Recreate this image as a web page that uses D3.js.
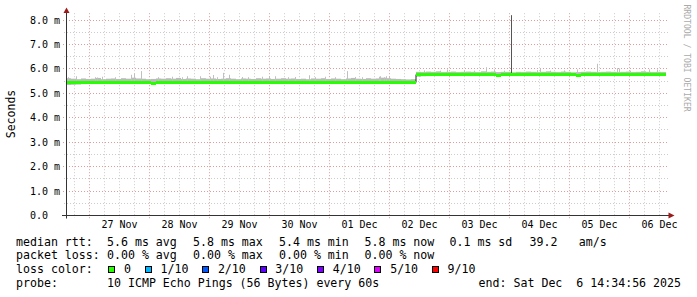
<!DOCTYPE html>
<html>
<head>
<meta charset="utf-8">
<title>SmokePing - last 10 days</title>
<script src="https://d3js.org/d3.v7.min.js"></script>
<style>
  body { margin: 0; background: #fff; }
  text { font-family: "DejaVu Sans Mono", monospace; white-space: pre; }
</style>
</head>
<body>
<div id="chart"></div>
<script>
// ---- data (one sample every 2 hours) ----
const start = new Date(2025, 10, 26, 14, 34, 56);
const end = new Date(2025, 11, 6, 14, 34, 56);
const stepHours = 2;

const median = [
  5.45, 5.44, 5.44, 5.45, 5.44, 5.44, 5.44, 5.45, 5.44, 5.44,
  5.44, 5.45, 5.44, 5.44, 5.44, 5.44, 5.44, 5.41, 5.44, 5.44,
  5.44, 5.45, 5.44, 5.44, 5.45, 5.44, 5.44, 5.44, 5.44, 5.45,
  5.44, 5.44, 5.44, 5.44, 5.44, 5.45, 5.44, 5.44, 5.44, 5.44,
  5.45, 5.44, 5.44, 5.44, 5.44, 5.44, 5.45, 5.44, 5.44, 5.44,
  5.44, 5.44, 5.45, 5.44, 5.44, 5.44, 5.44, 5.44, 5.45, 5.44,
  5.44, 5.44, 5.44, 5.44, 5.44, 5.44, 5.44, 5.44, 5.44, 5.44,
  5.77, 5.77, 5.78, 5.77, 5.77, 5.77, 5.78, 5.77, 5.77, 5.77,
  5.77, 5.78, 5.77, 5.77, 5.77, 5.77, 5.75, 5.77, 5.77, 5.78,
  5.77, 5.77, 5.77, 5.77, 5.78, 5.77, 5.77, 5.77, 5.77, 5.77,
  5.77, 5.77, 5.74, 5.77, 5.77, 5.78, 5.77, 5.77, 5.77, 5.77,
  5.78, 5.77, 5.77, 5.77, 5.77, 5.77, 5.78, 5.77, 5.77, 5.77
];

const smokeHi = [
  5.62, 5.60, 5.58, 5.61, 5.59, 5.60, 5.63, 5.58, 5.60, 5.61,
  5.59, 5.62, 5.60, 5.64, 5.61, 5.60, 5.58, 5.59, 5.61, 5.60,
  5.62, 5.60, 5.63, 5.59, 5.61, 5.60, 5.58, 5.62, 5.60, 5.61,
  5.59, 5.60, 5.62, 5.60, 5.58, 5.61, 5.60, 5.59, 5.62, 5.60,
  5.61, 5.59, 5.60, 5.62, 5.60, 5.61, 5.59, 5.60, 5.58, 5.61,
  5.60, 5.62, 5.59, 5.61, 5.60, 5.58, 5.61, 5.63, 5.60, 5.59,
  5.62, 5.60, 5.61, 5.64, 5.62, 5.60, 5.59, 5.58, 5.57, 5.58,
  5.88, 5.87, 5.89, 5.88, 5.90, 5.87, 5.88, 5.89, 5.87, 5.88,
  5.89, 5.88, 5.87, 5.90, 5.88, 5.89, 5.87, 5.88, 5.88, 5.86,
  5.88, 5.87, 5.89, 5.88, 5.87, 5.88, 5.90, 5.88, 5.87, 5.89,
  5.88, 5.86, 5.87, 5.88, 5.89, 5.88, 5.87, 5.88, 5.89, 5.88,
  5.87, 5.88, 5.89, 5.87, 5.88, 5.90, 5.88, 5.87, 5.88, 5.87
];

const smokeLo = [
  5.34, 5.35, 5.36, 5.38, 5.39, 5.39, 5.40, 5.39, 5.39, 5.40,
  5.39, 5.39, 5.40, 5.39, 5.39, 5.39, 5.40, 5.37, 5.39, 5.39,
  5.39, 5.40, 5.39, 5.39, 5.39, 5.40, 5.39, 5.39, 5.39, 5.40,
  5.39, 5.39, 5.40, 5.39, 5.39, 5.39, 5.39, 5.40, 5.39, 5.39,
  5.39, 5.40, 5.39, 5.39, 5.39, 5.39, 5.40, 5.39, 5.39, 5.39,
  5.40, 5.39, 5.39, 5.39, 5.39, 5.40, 5.39, 5.39, 5.39, 5.39,
  5.40, 5.39, 5.39, 5.39, 5.39, 5.40, 5.39, 5.39, 5.39, 5.39,
  5.68, 5.70, 5.71, 5.72, 5.71, 5.72, 5.71, 5.72, 5.71, 5.72,
  5.72, 5.71, 5.72, 5.71, 5.72, 5.72, 5.70, 5.72, 5.71, 5.72,
  5.71, 5.72, 5.72, 5.71, 5.72, 5.71, 5.72, 5.72, 5.71, 5.72,
  5.72, 5.71, 5.69, 5.72, 5.71, 5.72, 5.72, 5.71, 5.72, 5.71,
  5.72, 5.71, 5.72, 5.72, 5.71, 5.72, 5.71, 5.72, 5.71, 5.72
];

// single high pings sticking out of the smoke
const spikes = [
  ["2025-11-26 15:40", 5.66], ["2025-11-26 18:35", 5.70], ["2025-11-27 02:18", 5.66],
  ["2025-11-27 02:59", 5.65], ["2025-11-27 04:59", 5.68], ["2025-11-27 10:18", 5.66],
  ["2025-11-27 16:35", 5.76], ["2025-11-27 17:59", 5.82], ["2025-11-27 20:35", 5.91],
  ["2025-11-28 03:40", 5.66], ["2025-11-28 08:59", 5.68], ["2025-11-28 12:59", 5.66],
  ["2025-11-28 14:59", 5.70], ["2025-11-28 20:11", 5.70], ["2025-11-29 00:18", 5.68],
  ["2025-11-29 01:23", 5.75], ["2025-11-29 02:59", 5.66], ["2025-11-29 05:35", 5.84],
  ["2025-11-29 07:47", 5.76], ["2025-11-29 12:59", 5.67], ["2025-11-29 15:40", 5.66],
  ["2025-11-29 20:59", 5.68], ["2025-11-29 23:47", 5.70], ["2025-11-30 02:23", 5.70],
  ["2025-11-30 07:40", 5.66], ["2025-11-30 10:23", 5.67], ["2025-11-30 15:47", 5.74],
  ["2025-11-30 18:18", 5.66], ["2025-11-30 22:18", 5.68], ["2025-12-01 02:18", 5.66],
  ["2025-12-01 06:59", 5.91], ["2025-12-01 10:23", 5.67], ["2025-12-01 12:59", 5.66],
  ["2025-12-01 19:47", 5.68], ["2025-12-01 20:23", 5.70], ["2025-12-01 21:47", 5.66],
  ["2025-12-01 22:47", 5.70], ["2025-12-01 23:47", 5.68], ["2025-12-02 13:47", 5.94],
  ["2025-12-02 20:28", 5.93], ["2025-12-02 23:11", 5.98], ["2025-12-03 05:47", 5.95],
  ["2025-12-03 09:47", 5.93], ["2025-12-03 14:47", 6.07], ["2025-12-03 17:47", 5.98],
  ["2025-12-03 21:47", 5.93], ["2025-12-04 11:11", 5.95], ["2025-12-04 12:11", 6.02],
  ["2025-12-04 16:28", 5.93], ["2025-12-04 21:47", 5.94], ["2025-12-05 03:11", 5.98],
  ["2025-12-05 11:11", 6.21], ["2025-12-05 19:11", 6.03], ["2025-12-05 19:59", 6.02],
  ["2025-12-06 00:28", 5.93], ["2025-12-06 07:47", 5.98], ["2025-12-06 10:59", 5.98]
];
const maxSpike = ["2025-12-04 00:47", 8.20];

const yTicks = [0, 1, 2, 3, 4, 5, 6, 7, 8];
const yTickLabels = ["0.0  ", "1.0 m", "2.0 m", "3.0 m", "4.0 m", "5.0 m", "6.0 m", "7.0 m", "8.0 m"];
const dayLabels = ["27 Nov", "28 Nov", "29 Nov", "30 Nov", "01 Dec", "02 Dec", "03 Dec", "04 Dec", "05 Dec", "06 Dec"];

const rttStats = ["5.6 ms avg", "5.8 ms max", "5.4 ms min", "5.8 ms now", "0.1 ms sd", "39.2", "am/s"];
const lossStats = ["0.00 % avg", "0.00 % max", "0.00 % min", "0.00 % now"];
const lossLabels = ["0", "1/10", "2/10", "3/10", "4/10", "5/10", "9/10"];
const lossColors = ["#26ff00", "#00b8ff", "#0059ff", "#5e00ff", "#7e00ff", "#dd00ff", "#ff0000"];
const probeText = "10 ICMP Echo Pings (56 Bytes) every 60s";
const endText = "end: Sat Dec  6 14:34:56 2025";

// ---- layout ----
const W = 697, H = 297;
const plotL = 66, plotR = 666, plotB = 215.5, plotT = 13.2;
const legendCols = [107, 193, 279, 364.5, 449.5, 529.5, 578.8];
const charW = 6.98;

const parse = d3.timeParse("%Y-%m-%d %H:%M");
const samples = median.map((m, i) => ({
  t0: d3.timeHour.offset(start, i * stepHours),
  t1: d3.timeHour.offset(start, (i + 1) * stepHours),
  med: m, hi: smokeHi[i], lo: smokeLo[i]
}));

const x = d3.scaleTime().domain([start, end]).range([plotL, plotR]);
const y = d3.scaleLinear().domain([0, 8.28]).range([plotB, plotT]);
const crisp = v => Math.round(v - 0.5) + 0.5;

const svg = d3.select("#chart").append("svg")
  .attr("width", W).attr("height", H);

// grid
const minorY = d3.range(0.5, 8.5, 1);
const minorX = d3.timeHour.every(6).range(start, end).filter(d => d.getHours() !== 0);
const majorX = d3.timeDay.range(start, end);

svg.append("g").selectAll("line").data(minorY).join("line")
  .attr("x1", plotL - 2).attr("x2", plotR + 2)
  .attr("y1", d => crisp(y(d))).attr("y2", d => crisp(y(d)))
  .attr("stroke", "#cccccc").attr("stroke-dasharray", "1,2");
svg.append("g").selectAll("line").data(minorX).join("line")
  .attr("x1", d => crisp(x(d))).attr("x2", d => crisp(x(d)))
  .attr("y1", plotT).attr("y2", plotB + 2)
  .attr("stroke", "#cccccc").attr("stroke-dasharray", "1,2");
svg.append("g").selectAll("line").data(yTicks.slice(1)).join("line")
  .attr("x1", plotL - 3).attr("x2", plotR + 2)
  .attr("y1", d => crisp(y(d))).attr("y2", d => crisp(y(d)))
  .attr("stroke", "#e09c9c").attr("stroke-dasharray", "1,2");
svg.append("g").selectAll("line").data(majorX).join("line")
  .attr("x1", d => crisp(x(d))).attr("x2", d => crisp(x(d)))
  .attr("y1", plotT).attr("y2", plotB + 3)
  .attr("stroke", "#e09c9c").attr("stroke-dasharray", "1,2");

// smoke
svg.append("g").selectAll("rect").data(samples).join("rect")
  .attr("x", d => x(d.t0)).attr("width", d => x(d.t1) - x(d.t0))
  .attr("y", d => y(d.hi)).attr("height", d => y(d.lo) - y(d.hi))
  .attr("fill", "#bababa");

const spikeData = spikes.map(d => ({ t: parse(d[0]), v: d[1] }));
const medAt = t => samples[Math.min(samples.length - 1, Math.floor((t - start) / (stepHours * 3600e3)))].med;
svg.append("g").selectAll("rect").data(spikeData).join("rect")
  .attr("x", d => Math.floor(x(d.t))).attr("width", 1)
  .attr("y", d => y(d.v)).attr("height", d => y(medAt(d.t)) - y(d.v))
  .attr("fill", "#c0c0c0");

const ms = { t: parse(maxSpike[0]), v: maxSpike[1] };
svg.append("rect")
  .attr("x", Math.floor(x(ms.t))).attr("width", 1)
  .attr("y", y(ms.v)).attr("height", y(medAt(ms.t)) - y(ms.v))
  .attr("fill", "#555");

// median: thin dark line, then the loss-coloured band
const medLine = d3.line().curve(d3.curveStepAfter)
  .x(d => x(d.t0)).y(d => crisp(y(d.med)));
svg.append("path")
  .datum(samples.concat([{ t0: end, med: median[median.length - 1] }]))
  .attr("d", medLine).attr("fill", "none")
  .attr("stroke", "#202020").attr("stroke-width", 1);
svg.append("g").selectAll("rect").data(samples).join("rect")
  .attr("x", d => x(d.t0)).attr("width", d => x(d.t1) - x(d.t0))
  .attr("y", d => Math.round(y(d.med) - 1.5)).attr("height", 3)
  .attr("fill", lossColors[0]);

// axes
svg.append("line").attr("x1", 62).attr("x2", 669).attr("y1", plotB).attr("y2", plotB)
  .attr("stroke", "#333");
svg.append("line").attr("x1", plotL + 0.5).attr("x2", plotL + 0.5).attr("y1", 218.5).attr("y2", 11)
  .attr("stroke", "#333");
svg.append("path").attr("d", `M${plotL + 0.5},7.5 L${plotL - 2.5},13 L${plotL + 3.5},13 Z`).attr("fill", "#9b1b1b");
svg.append("path").attr("d", `M674.5,${plotB} L668.5,${plotB - 3} L668.5,${plotB + 3} Z`).attr("fill", "#9b1b1b");

// y labels
svg.append("g").selectAll("text").data(yTicks).join("text")
  .attr("x", 60).attr("y", d => crisp(y(d)) + 3.5)
  .attr("text-anchor", "end").attr("font-size", 10).attr("fill", "#000")
  .text((d, i) => yTickLabels[i]);

// x labels at noon
svg.append("g").selectAll("text").data(dayLabels).join("text")
  .attr("x", (d, i) => x(d3.timeHour.offset(majorX[i], 12)))
  .attr("y", 227.5).attr("text-anchor", "middle").attr("font-size", 10).attr("fill", "#000")
  .text(d => d);

// titles
svg.append("text").attr("transform", "translate(14.5,114) rotate(-90)")
  .attr("text-anchor", "middle").attr("font-size", 11.5).text("Seconds");
svg.append("text").attr("transform", "translate(684,4.5) rotate(90)")
  .attr("font-size", 8.1).attr("fill", "#aaa").text("RRDTOOL / TOBI OETIKER");

// legend
const lg = svg.append("g").attr("font-size", 11.6).attr("fill", "#000");
const rows = [245.7, 259.4, 273, 286.7];
lg.append("text").attr("x", 16).attr("y", rows[0]).text("median rtt:");
lg.selectAll("text.rtt").data(rttStats).join("text").attr("class", "rtt")
  .attr("x", (d, i) => legendCols[i]).attr("y", rows[0]).text(d => d);
lg.append("text").attr("x", 16).attr("y", rows[1]).text("packet loss:");
lg.selectAll("text.loss").data(lossStats).join("text").attr("class", "loss")
  .attr("x", (d, i) => legendCols[i]).attr("y", rows[1]).text(d => d);
lg.append("text").attr("x", 16).attr("y", rows[2]).text("loss color:");
let lx = 109.2;
lossLabels.forEach((lab, i) => {
  lg.append("rect").attr("x", Math.round(lx) - 0.5).attr("y", 266.5).attr("width", 6).attr("height", 6)
    .attr("fill", lossColors[i]).attr("stroke", "#000").attr("stroke-width", 1);
  lg.append("text").attr("x", lx + 14.8).attr("y", rows[2]).text(lab);
  lx += 14.8 + lab.length * charW + 14.7;
});
lg.append("text").attr("x", 16).attr("y", rows[3]).text("probe:");
lg.append("text").attr("x", legendCols[0]).attr("y", rows[3]).text(probeText);
lg.append("text").attr("x", 681).attr("y", rows[3]).attr("text-anchor", "end").text(endText);
</script>
</body>
</html>
